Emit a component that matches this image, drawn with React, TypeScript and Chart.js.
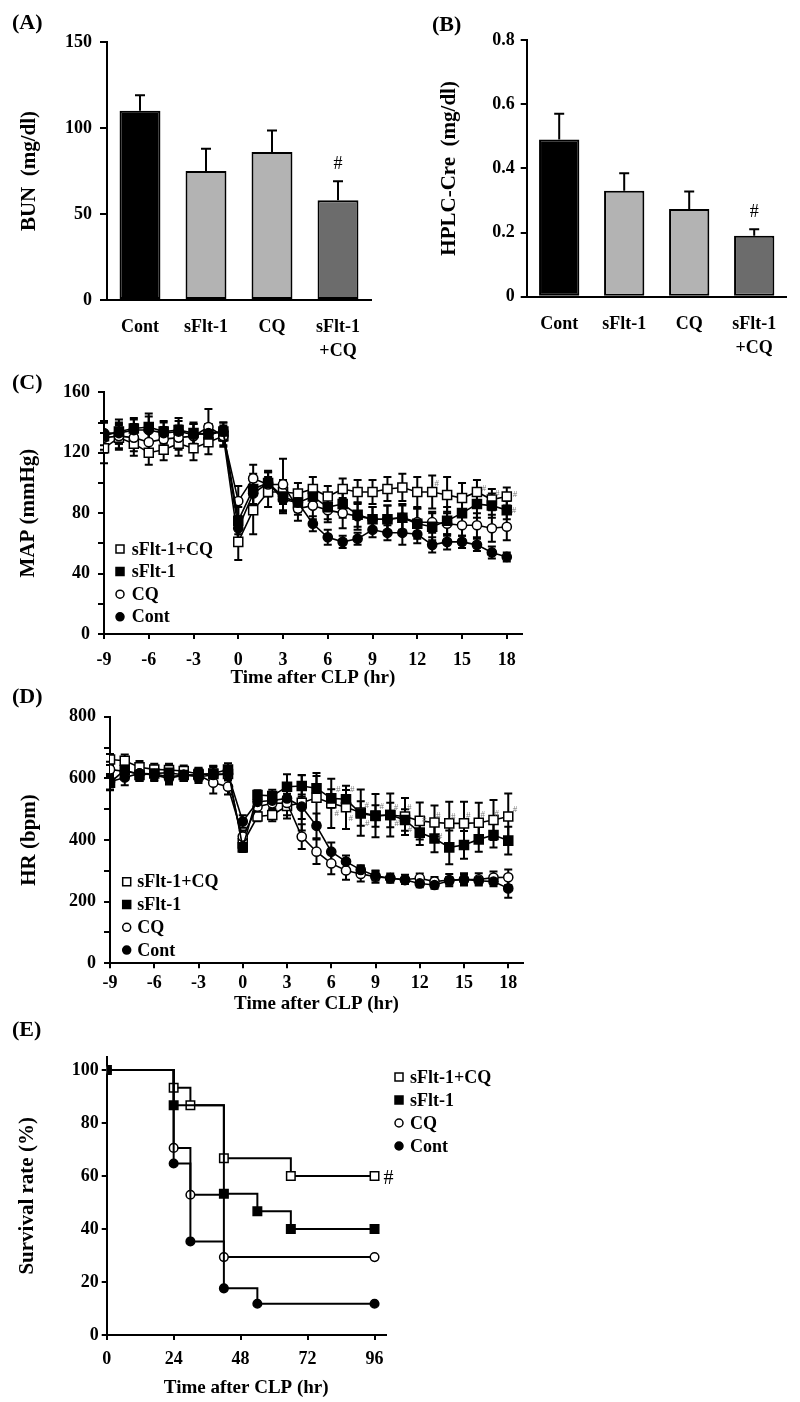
import React, { useEffect, useRef } from 'react';
import { Chart, registerables } from 'chart.js';

Chart.register(...registerables);

const SERIF = '"Liberation Serif", "Times New Roman", Times, serif';
Chart.defaults.font.family = SERIF;
Chart.defaults.color = '#000';

// ---------- Panels A / B ----------
const renalGroups = ['Cont', 'sFlt-1', 'CQ', 'sFlt-1\n+CQ'];
const bunMean = [110, 75, 86, 58];
const bunSem = [9, 13, 12.5, 11];
const creMean = [0.49, 0.33, 0.273, 0.19];
const creSem = [0.08, 0.055, 0.055, 0.02];
const renalSignificant = [false, false, false, true];
const groupFill = ['#000000', '#b3b3b3', '#b3b3b3', '#6c6c6c'];

// ---------- Series (C, D, E) ----------
const seriesNames = ['sFlt-1+CQ', 'sFlt-1', 'CQ', 'Cont'];
const seriesMarkers = ['openSquare', 'filledSquare', 'openCircle', 'filledCircle'];

// ---------- Panel C : MAP ----------
const hours = [-9, -8, -7, -6, -5, -4, -3, -2, -1, 0, 1, 2, 3, 4, 5, 6, 7, 8, 9, 10, 11, 12, 13, 14, 15, 16, 17, 18];
const mapFltCQ = [123, 130, 126, 120, 122, 126, 123, 127, 131, 61, 82, 94, 94, 93, 96, 91, 96, 94, 94, 96, 97, 94, 94, 92, 90, 94, 89, 91];
const mapFlt = [131, 134, 136, 137, 134, 135, 133, 132, 134, 75, 96, 100, 91, 87, 91, 84, 86, 79, 76, 76, 77, 73, 71, 75, 80, 86, 85, 82];
const mapCQ = [130, 131, 130, 127, 129, 130, 131, 137, 131, 88, 103, 99, 99, 83, 85, 82, 80, 78, 76, 76, 77, 74, 74, 73, 72, 72, 70, 71];
const mapCont = [133, 133, 135, 135, 133, 134, 132, 133, 134, 70, 93, 100, 89, 87, 73, 64, 61, 63, 69, 67, 67, 66, 59, 61, 61, 59, 54, 51];
const mapFltCQSem = [10, 8, 8, 8, 7, 8, 8, 8, 6, 12, 16, 10, 8, 7, 8, 7, 7, 8, 8, 8, 9, 10, 11, 12, 10, 8, 7, 6];
const mapFltSem = [9, 8, 7, 9, 7, 8, 7, 7, 6, 9, 10, 8, 10, 8, 7, 8, 9, 8, 8, 9, 9, 10, 9, 9, 8, 9, 8, 6];
const mapCQSem = [10, 8, 9, 8, 8, 8, 8, 12, 7, 10, 9, 8, 17, 8, 9, 8, 10, 9, 8, 9, 8, 9, 7, 8, 7, 8, 9, 9];
const mapContSem = [8, 7, 7, 9, 7, 7, 7, 6, 6, 8, 8, 7, 9, 6, 5, 5, 4, 4, 5, 5, 8, 6, 5, 5, 4, 4, 4, 3];
const mapSigHour = [13.3, 16.47, 17.36, 18.55, 18.48];
const mapSigValue = [99.3, 96.5, 93.1, 92.5, 81.6];

// ---------- Panel D : HR ----------
const hrFltCQ = [661, 657, 636, 629, 627, 624, 614, 614, 614, 389, 476, 481, 510, 521, 537, 519, 506, 489, 479, 481, 476, 462, 457, 454, 454, 456, 465, 476];
const hrFlt = [586, 627, 611, 616, 618, 611, 611, 616, 629, 376, 546, 543, 573, 575, 568, 535, 532, 486, 478, 481, 465, 424, 405, 376, 384, 402, 416, 398];
const hrCQ = [629, 622, 616, 614, 605, 611, 611, 586, 573, 411, 508, 519, 520, 411, 362, 324, 301, 290, 281, 276, 272, 276, 265, 270, 272, 272, 278, 279];
const hrCont = [589, 603, 616, 611, 600, 611, 605, 611, 614, 460, 524, 528, 535, 508, 446, 362, 330, 303, 284, 276, 270, 259, 254, 268, 272, 268, 265, 243];
const hrFltCQSem = [18, 20, 20, 18, 20, 18, 20, 25, 20, 20, 15, 20, 40, 90, 80, 80, 70, 75, 70, 70, 60, 60, 55, 70, 70, 65, 65, 75];
const hrFltSem = [25, 30, 20, 20, 25, 20, 20, 25, 20, 15, 15, 20, 40, 35, 40, 30, 30, 40, 35, 40, 35, 40, 45, 55, 45, 40, 40, 45];
const hrCQSem = [25, 25, 25, 20, 20, 20, 20, 35, 25, 20, 20, 20, 40, 40, 40, 35, 30, 25, 20, 15, 15, 15, 15, 20, 20, 20, 20, 25];
const hrContSem = [25, 25, 20, 20, 20, 20, 20, 25, 20, 20, 15, 20, 35, 40, 40, 30, 20, 15, 15, 10, 10, 12, 12, 12, 15, 12, 15, 30];
const hrSigHour = [6.48, 7.43, 6.37, 7.32, 8.4, 8.44, 9.42, 10.39, 10.44, 11.29, 11.34, 12.31, 13.26, 13.37, 14.27, 15.29, 16.27, 17.22, 18.46];
const hrSigValue = [562, 562, 486, 468, 513, 454, 508, 506, 452, 506, 432, 467, 480, 411, 475, 478, 481, 486, 497];

// ---------- Panel E : survival ----------
const survTimeFltCQ = [0, 24, 30, 42, 66, 96];
const survFltCQ = [100, 93.3, 86.7, 66.7, 60, 60];
const survTimeFlt = [0, 24, 42, 54, 66, 96];
const survFlt = [100, 86.7, 53.3, 46.7, 40, 40];
const survTimeCQ = [0, 24, 30, 42, 96];
const survCQ = [100, 70.6, 52.9, 29.4, 29.4];
const survTimeCont = [0, 24, 30, 42, 54, 96];
const survCont = [100, 64.7, 35.3, 17.6, 11.8, 11.8];

// ---------- helpers ----------
const tickFont = { family: SERIF, size: 18, weight: 'bold', lineHeight: 1.33 } as any;
const xTitleFont = { family: SERIF, size: 19, weight: 'bold' } as any;
const yTitleFont = { family: SERIF, size: 21, weight: 'bold' } as any;
const axisBorder = { display: true, color: '#000', width: 2 };

function fixSize(w?: number, h?: number) {
  return (scale: any) => {
    if (w !== undefined) scale.width = w;
    if (h !== undefined) scale.height = h;
  };
}

function drawMarker(ctx: CanvasRenderingContext2D, kind: string, x: number, y: number, size: number) {
  ctx.save();
  ctx.lineWidth = 1.5;
  ctx.strokeStyle = '#000';
  ctx.fillStyle = kind.startsWith('open') ? '#fff' : '#000';
  ctx.beginPath();
  if (kind.endsWith('Square')) ctx.rect(x - size / 2, y - size / 2, size, size);
  else ctx.arc(x, y, size / 2, 0, Math.PI * 2);
  ctx.fill();
  ctx.stroke();
  ctx.restore();
}

const barExtrasPlugin = {
  id: 'barExtras',
  afterDatasetsDraw(chart: any) {
    const ctx = chart.ctx;
    const ds = chart.data.datasets[0];
    const meta = chart.getDatasetMeta(0);
    const ys = chart.scales.y;
    ctx.save();
    ctx.strokeStyle = '#000';
    ctx.lineWidth = 2;
    meta.data.forEach((bar: any, i: number) => {
      const top = ys.getPixelForValue(ds.data[i] + ds.errors[i]);
      ctx.beginPath();
      ctx.moveTo(bar.x, bar.y);
      ctx.lineTo(bar.x, top);
      ctx.moveTo(bar.x - 5, top);
      ctx.lineTo(bar.x + 5, top);
      ctx.stroke();
      if (ds.significant[i]) {
        ctx.fillStyle = '#000';
        ctx.font = `18px ${SERIF}`;
        ctx.textAlign = 'center';
        ctx.textBaseline = 'middle';
        ctx.fillText('#', bar.x, top - 17);
      }
    });
    ctx.restore();
  },
};

const lineErrorPlugin = {
  id: 'lineErrors',
  beforeDatasetsDraw(chart: any) {
    const ctx = chart.ctx;
    const ys = chart.scales.y;
    ctx.save();
    ctx.strokeStyle = '#000';
    ctx.lineWidth = 2;
    chart.data.datasets.forEach((ds: any, di: number) => {
      if (!ds.errors) return;
      const meta = chart.getDatasetMeta(di);
      meta.data.forEach((pt: any, i: number) => {
        const v = ds.data[i].y;
        const e = ds.errors[i];
        const t = ys.getPixelForValue(v + e);
        const b = ys.getPixelForValue(v - e);
        ctx.beginPath();
        ctx.moveTo(pt.x, t);
        ctx.lineTo(pt.x, b);
        ctx.moveTo(pt.x - 4, t);
        ctx.lineTo(pt.x + 4, t);
        ctx.moveTo(pt.x - 4, b);
        ctx.lineTo(pt.x + 4, b);
        ctx.stroke();
      });
    });
    ctx.restore();
  },
};

function sigMarksPlugin(xs: number[], vs: number[]) {
  return {
    id: 'sigMarks',
    afterDatasetsDraw(chart: any) {
      const ctx = chart.ctx;
      ctx.save();
      ctx.fillStyle = '#7a7a7a';
      ctx.font = `9px ${SERIF}`;
      ctx.textAlign = 'center';
      ctx.textBaseline = 'middle';
      xs.forEach((x, i) => {
        ctx.fillText('#', chart.scales.x.getPixelForValue(x), chart.scales.y.getPixelForValue(vs[i]));
      });
      ctx.restore();
    },
  };
}

function insetLegendPlugin(x: number, y: number, step: number, gap: number) {
  return {
    id: 'insetLegend',
    afterDraw(chart: any) {
      const ctx = chart.ctx;
      ctx.save();
      ctx.font = `bold 18px ${SERIF}`;
      ctx.fillStyle = '#000';
      ctx.textAlign = 'left';
      ctx.textBaseline = 'middle';
      seriesNames.forEach((name, i) => {
        drawMarker(ctx, seriesMarkers[i], x, y + i * step, 8);
        ctx.fillText(name, x + gap, y + i * step + 1);
      });
      ctx.restore();
    },
  };
}

const survivalSigPlugin = {
  id: 'survSig',
  afterDatasetsDraw(chart: any) {
    const ctx = chart.ctx;
    chart.data.datasets.forEach((ds: any, di: number) => {
      if (!ds.significant) return;
      const meta = chart.getDatasetMeta(di);
      const last = meta.data[meta.data.length - 1];
      ctx.save();
      ctx.fillStyle = '#000';
      ctx.font = `20px ${SERIF}`;
      ctx.textAlign = 'left';
      ctx.textBaseline = 'middle';
      ctx.fillText('#', last.x + 9, last.y + 3);
      ctx.restore();
    });
  },
};

function pointStyleFor(kind: string, radiusCircle: number, radiusRect: number) {
  const square = kind.endsWith('Square');
  return {
    pointStyle: square ? 'rect' : 'circle',
    pointRadius: square ? radiusRect : radiusCircle,
    pointBackgroundColor: kind.startsWith('open') ? '#fff' : '#000',
    pointBorderColor: '#000',
    pointBorderWidth: 1.5,
  };
}

function barConfig(values: number[], errors: number[], yMax: number, step: number, title: string,
  pad: any, yWidth: number, xHeight: number, yTickPad: number, yTickLen: number, xTickPad: number, titlePad: number) {
  return {
    type: 'bar',
    data: {
      labels: renalGroups.map((g) => g.split('\n')),
      datasets: [{
        data: values,
        errors,
        significant: renalSignificant,
        backgroundColor: groupFill,
        borderColor: '#000',
        borderWidth: 2,
        borderSkipped: false,
        barPercentage: 0.62,
        categoryPercentage: 1,
      }],
    },
    options: {
      responsive: false,
      animation: false,
      events: [],
      layout: { padding: pad },
      plugins: { legend: { display: false }, tooltip: { enabled: false } },
      scales: {
        x: {
          grid: { display: false },
          border: axisBorder,
          ticks: { font: tickFont, color: '#000', padding: xTickPad, autoSkip: false, maxRotation: 0 },
          afterFit: fixSize(undefined, xHeight),
        },
        y: {
          min: 0,
          max: yMax,
          ticks: { stepSize: step, font: tickFont, color: '#000', padding: yTickPad },
          grid: { drawOnChartArea: false, color: '#000', lineWidth: 2, tickLength: yTickLen },
          border: axisBorder,
          title: { display: true, text: title, font: yTitleFont, color: '#000', padding: { top: titlePad, bottom: 0 } },
          afterFit: fixSize(yWidth),
        },
      },
    },
    plugins: [barExtrasPlugin],
  };
}

function timeSeriesConfig(series: number[][], errs: number[][], yMax: number, yStep: number, labelEvery: number,
  yTitle: string, pad: any, yWidth: number, xHeight: number, xTickPad: number, xTitlePad: number, yTitlePad: number,
  sigX: number[], sigV: number[], legend: number[]) {
  // datasets ordered so that Cont is drawn on top
  const order = [3, 1, 2, 0];
  const datasets = order.map((si) => ({
    label: seriesNames[si],
    data: hours.map((h, i) => ({ x: h, y: series[si][i] })),
    errors: errs[si],
    borderColor: '#000',
    borderWidth: 1.6,
    fill: false,
    tension: 0,
    ...pointStyleFor(seriesMarkers[si], 4.6, 6.4),
  }));
  return {
    type: 'line',
    data: { datasets },
    options: {
      responsive: false,
      animation: false,
      events: [],
      layout: { padding: pad },
      plugins: { legend: { display: false }, tooltip: { enabled: false } },
      scales: {
        x: {
          type: 'linear',
          min: -9,
          max: 19,
          ticks: { stepSize: 3, includeBounds: false, font: tickFont, color: '#000', padding: xTickPad, maxRotation: 0, autoSkip: false },
          grid: { drawOnChartArea: false, color: '#000', lineWidth: 2, tickLength: 5 },
          border: axisBorder,
          title: { display: true, text: 'Time after CLP (hr)', font: xTitleFont, color: '#000', padding: { top: 0, bottom: xTitlePad } },
          afterFit: fixSize(undefined, xHeight),
        },
        y: {
          min: 0,
          max: yMax,
          ticks: {
            stepSize: yStep, font: tickFont, color: '#000', padding: 8, autoSkip: false,
            callback: (v: number) => (v % labelEvery === 0 ? String(v) : ''),
          },
          grid: { drawOnChartArea: false, color: '#000', lineWidth: 2, tickLength: 6 },
          border: axisBorder,
          title: { display: true, text: yTitle, font: yTitleFont, color: '#000', padding: { top: yTitlePad, bottom: 0 } },
          afterFit: fixSize(yWidth),
        },
      },
    },
    plugins: [lineErrorPlugin, sigMarksPlugin(sigX, sigV), insetLegendPlugin(legend[0], legend[1], legend[2], legend[3])],
  };
}

function survivalConfig() {
  const times = [survTimeFltCQ, survTimeFlt, survTimeCQ, survTimeCont];
  const vals = [survFltCQ, survFlt, survCQ, survCont];
  const order = [3, 1, 2, 0];
  const datasets = order.map((si) => ({
    label: seriesNames[si],
    data: times[si].map((t, i) => ({ x: t, y: vals[si][i] })),
    significant: si === 0,
    stepped: 'before',
    borderColor: '#000',
    borderWidth: 2,
    fill: false,
    ...pointStyleFor(seriesMarkers[si], 4.3, 6),
  }));
  return {
    type: 'line',
    data: { datasets },
    options: {
      responsive: false,
      animation: false,
      events: [],
      layout: { padding: { left: 0, top: 16.7, right: 174.3, bottom: 0 } },
      plugins: { legend: { display: false }, tooltip: { enabled: false } },
      scales: {
        x: {
          type: 'linear',
          min: 0,
          max: 100,
          ticks: { stepSize: 24, includeBounds: false, font: tickFont, color: '#000', padding: 7, maxRotation: 0, autoSkip: false },
          grid: { drawOnChartArea: false, color: '#000', lineWidth: 2, tickLength: 5 },
          border: axisBorder,
          title: { display: true, text: 'Time after CLP (hr)', font: xTitleFont, color: '#000', padding: { top: 0, bottom: 2.6 } },
          afterFit: fixSize(undefined, 67),
        },
        y: {
          min: 0,
          max: 105,
          ticks: { stepSize: 20, includeBounds: false, font: tickFont, color: '#000', padding: 3, autoSkip: false },
          grid: { drawOnChartArea: false, color: '#000', lineWidth: 2, tickLength: 5 },
          border: axisBorder,
          title: { display: true, text: 'Survival rate (%)', font: yTitleFont, color: '#000', padding: { top: 15.4, bottom: 0 } },
          afterFit: fixSize(106.7),
        },
      },
    },
    plugins: [survivalSigPlugin, insetLegendPlugin(399, 37, 23, 11)],
  };
}

function ChartBox({ left, top, width, height, make }: any) {
  const ref = useRef<HTMLCanvasElement>(null);
  useEffect(() => {
    const chart = new Chart(ref.current as HTMLCanvasElement, make() as any);
    return () => chart.destroy();
  }, []);
  return (
    <canvas
      ref={ref}
      width={width}
      height={height}
      style={{ position: 'absolute', left, top, width, height }}
    />
  );
}

const panelLabelStyle = (x: number, y: number): React.CSSProperties => ({
  position: 'absolute',
  left: x,
  top: y - 12,
  fontFamily: SERIF,
  fontWeight: 'bold',
  fontSize: 22,
  lineHeight: 1,
  color: '#000',
  whiteSpace: 'nowrap',
});

export default function App() {
  return (
    <div style={{ position: 'absolute', left: 0, top: 0, width: 800, height: 1402, background: '#fff', overflow: 'hidden' }}>
      <ChartBox left={0} top={0} width={400} height={362}
        make={() => barConfig(bunMean, bunSem, 150, 50, 'BUN  (mg/dl)', { left: 0, top: 42, right: 29, bottom: 0 }, 107, 62, 8, 7, 7, 17.4)} />
      <ChartBox left={400} top={0} width={400} height={362}
        make={() => barConfig(creMean, creSem, 0.8, 0.2, 'HPLC-Cre  (mg/dl)', { left: 0, top: 40, right: 13.3, bottom: 0 }, 126.7, 65.3, 6, 6, 7.5, 37.4)} />
      <ChartBox left={0} top={350} width={560} height={350}
        make={() => timeSeriesConfig(
          [mapFltCQ, mapFlt, mapCQ, mapCont], [mapFltCQSem, mapFltSem, mapCQSem, mapContSem],
          160, 20, 40, 'MAP (mmHg)', { left: 0, top: 42.3, right: 38.3, bottom: 0 }, 104, 66, 9.2, 10.6, 16.4,
          mapSigHour, mapSigValue, [120, 199, 22.6, 11.7])} />
      <ChartBox left={0} top={690} width={560} height={330}
        make={() => timeSeriesConfig(
          [hrFltCQ, hrFlt, hrCQ, hrCont], [hrFltCQSem, hrFltSem, hrCQSem, hrContSem],
          800, 100, 200, 'HR (bpm)', { left: 0, top: 26.7, right: 37, bottom: 0 }, 110, 56.7, 3.4, 5, 17.4,
          hrSigHour, hrSigValue, [126.7, 191.7, 22.8, 10.6])} />
      <ChartBox left={0} top={1040} width={560} height={362} make={survivalConfig} />
      <div style={panelLabelStyle(12, 23)}>(A)</div>
      <div style={panelLabelStyle(432, 25)}>(B)</div>
      <div style={panelLabelStyle(12, 383)}>(C)</div>
      <div style={panelLabelStyle(12, 697)}>(D)</div>
      <div style={panelLabelStyle(12, 1030)}>(E)</div>
    </div>
  );
}
